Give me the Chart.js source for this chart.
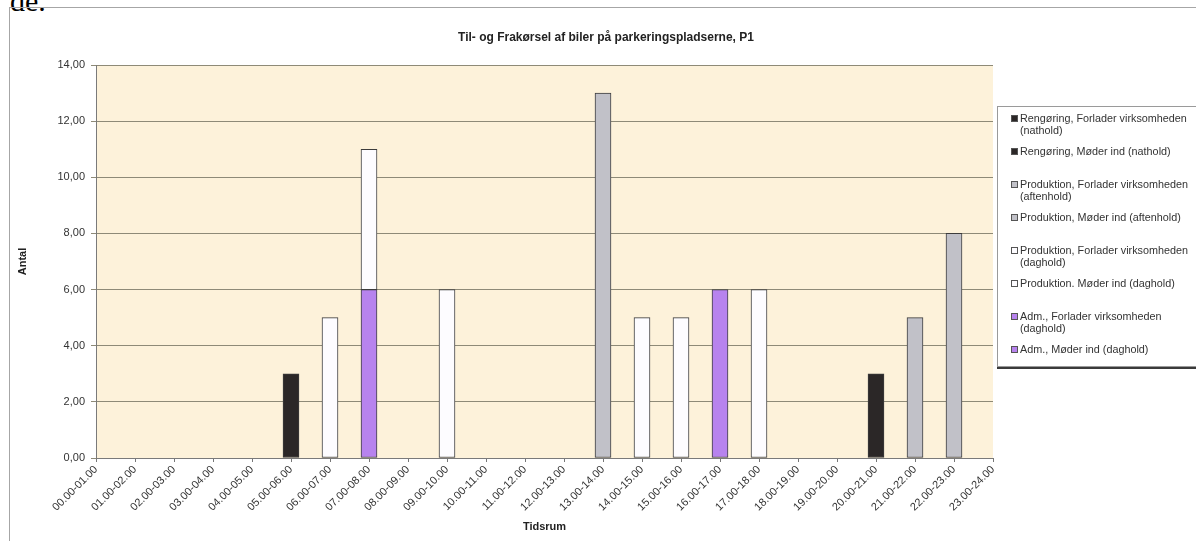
<!DOCTYPE html>
<html>
<head>
<meta charset="utf-8">
<script src="https://cdn.jsdelivr.net/npm/chart.js@4/dist/chart.umd.min.js"></script>
<style>
  html, body { margin: 0; padding: 0; background: #fff; }
  #wrap { position: relative; width: 1196px; height: 541px; overflow: hidden; background: #fff; }
  #doc { position: absolute; left: 10px; top: -14px; font-family: "Liberation Serif", "Times New Roman", serif; font-size: 30px; line-height: 1; color: #000; }
  #frame { position: absolute; left: 9px; top: 7px; width: 1400px; height: 800px; border: 1px solid #a6a6a6; }
  #c { position: absolute; left: 0; top: 0; }
  #legend { position: absolute; left: 997px; top: 106px; width: 260px; height: 259px; border: 1px solid #9a9a9a; background: #fff; box-shadow: 0 2px 0 #3a3a3a; font-family: "Liberation Sans", Arial, sans-serif; font-size: 10.8px; color: #333; }
  .item { position: absolute; left: 13px; width: 190px; display: flex; align-items: flex-start; line-height: 12px; }
  .sw { width: 5px; height: 5px; border: 1px solid #555; margin-top: 3px; margin-right: 2px; flex: none; }
  .txt { width: 180px; }
</style>
</head>
<body>
<div id="wrap">
  <div id="doc">de.</div>
  <div id="frame"></div>
  <canvas id="c" width="1196" height="541"></canvas>
  <div id="legend"></div>
</div>
<script>
const categories = ['00.00-01.00','01.00-02.00','02.00-03.00','03.00-04.00','04.00-05.00','05.00-06.00',
  '06.00-07.00','07.00-08.00','08.00-09.00','09.00-10.00','10.00-11.00','11.00-12.00','12.00-13.00',
  '13.00-14.00','14.00-15.00','15.00-16.00','16.00-17.00','17.00-18.00','18.00-19.00','19.00-20.00',
  '20.00-21.00','21.00-22.00','22.00-23.00','23.00-24.00'];

// series listed bottom of stack first
const admModerDag        = [0,0,0,0,0,0,0,6,0,0,0,0,0,0,0,0,0,0,0,0,0,0,0,0];
const admForladerDag     = [0,0,0,0,0,0,0,0,0,0,0,0,0,0,0,0,6,0,0,0,0,0,0,0];
const prodModerDag       = [0,0,0,0,0,0,5,5,0,6,0,0,0,0,0,0,0,0,0,0,0,0,0,0];
const prodForladerDag    = [0,0,0,0,0,0,0,0,0,0,0,0,0,0,5,5,0,6,0,0,0,0,0,0];
const prodModerAften     = [0,0,0,0,0,0,0,0,0,0,0,0,0,13,0,0,0,0,0,0,0,0,0,0];
const prodForladerAften  = [0,0,0,0,0,0,0,0,0,0,0,0,0,0,0,0,0,0,0,0,0,5,8,0];
const rengModerNat       = [0,0,0,0,0,0,0,0,0,0,0,0,0,0,0,0,0,0,0,0,3,0,0,0];
const rengForladerNat    = [0,0,0,0,0,3,0,0,0,0,0,0,0,0,0,0,0,0,0,0,0,0,0,0];

const seriesLabels = ['Adm., Møder ind (daghold)','Adm., Forlader virksomheden (daghold)',
  'Produktion. Møder ind (daghold)','Produktion, Forlader virksomheden (daghold)',
  'Produktion, Møder ind (aftenhold)','Produktion, Forlader virksomheden (aftenhold)',
  'Rengøring, Møder ind (nathold)','Rengøring, Forlader virksomheden (nathold)'];
const seriesData = [admModerDag, admForladerDag, prodModerDag, prodForladerDag,
  prodModerAften, prodForladerAften, rengModerNat, rengForladerNat];
const seriesColors = ['#b783ee','#b783ee','#fdfcff','#fdfcff','#c1c1c8','#c1c1c8','#2b2727','#2b2727'];

const yTicks = [0,2,4,6,8,10,12,14];

const plotBg = {
  id: 'plotBg',
  beforeDraw(chart) {
    const a = chart.chartArea, ctx = chart.ctx;
    ctx.save();
    ctx.fillStyle = '#fdf2da';
    ctx.fillRect(a.left, a.top, a.right - a.left, a.bottom - a.top);
    ctx.restore();
  }
};

const FONT = 'Liberation Sans, Arial, sans-serif';

const chart = new Chart(document.getElementById('c'), {
  type: 'bar',
  data: {
    labels: categories,
    datasets: seriesData.map((d, i) => ({
      label: seriesLabels[i],
      data: d.map(v => v === 0 ? null : v),
      backgroundColor: seriesColors[i],
      borderColor: '#3c3c3c',
      borderWidth: 1,
      borderSkipped: false,
      barThickness: 16
    }))
  },
  options: {
    responsive: false,
    animation: false,
    devicePixelRatio: 1,
    layout: { padding: { left: 16, right: 0, top: 0, bottom: 0 } },
    plugins: {
      legend: { display: false },
      tooltip: { enabled: false },
      title: {
        display: true,
        text: 'Til- og Frakørsel af biler på parkeringspladserne, P1',
        color: '#222',
        font: { family: FONT, size: 12, weight: 'bold' },
        padding: { top: 30, bottom: 20.6 }
      }
    },
    scales: {
      x: {
        stacked: true,
        offset: false,
        grid: { display: true, drawOnChartArea: false, drawTicks: true, tickLength: 4, color: '#777', offset: false },
        border: { display: true, color: '#7a7a7a' },
        ticks: { minRotation: 45, maxRotation: 45, autoSkip: false, padding: 1, color: '#333', font: { family: FONT, size: 11 } },
        title: { display: true, text: 'Tidsrum', color: '#222', font: { family: FONT, size: 11, weight: 'bold' }, padding: { top: 0, bottom: 7 } },
        afterFit(s) { s.height = 83; }
      },
      y: {
        stacked: true,
        min: 0, max: 14,
        afterBuildTicks(s) { s.ticks = yTicks.map(v => ({ value: v })); },
        grid: { color: '#8e8a77', lineWidth: 1, drawTicks: true, tickLength: 5 },
        border: { display: true, color: '#7a7a7a' },
        ticks: { color: '#333', padding: 6, font: { family: FONT, size: 11 }, callback: v => Number(v).toFixed(2).replace('.', ',') },
        title: { display: true, text: 'Antal', color: '#222', font: { family: FONT, size: 11, weight: 'bold' }, padding: { top: 0, bottom: 0 } },
        afterFit(s) { s.width = 80; }
      },
      yr: {
        position: 'right',
        display: true,
        min: 0, max: 1,
        grid: { display: false, drawTicks: false },
        border: { display: false },
        ticks: { display: false },
        afterFit(s) { s.width = 203; }
      }
    }
  },
  plugins: [plotBg]
});

// HTML legend (reversed order, like the stacked legend of the reference)
const legend = document.getElementById('legend');
const n = seriesLabels.length;
for (let k = 0; k < n; k++) {
  const i = n - 1 - k;
  const item = document.createElement('div');
  item.className = 'item';
  item.style.top = (5 + 33 * k) + 'px';
  const sw = document.createElement('div');
  sw.className = 'sw';
  sw.style.background = seriesColors[i];
  const t = document.createElement('div');
  t.className = 'txt';
  t.textContent = seriesLabels[i];
  item.appendChild(sw);
  item.appendChild(t);
  legend.appendChild(item);
}
</script>
</body>
</html>
